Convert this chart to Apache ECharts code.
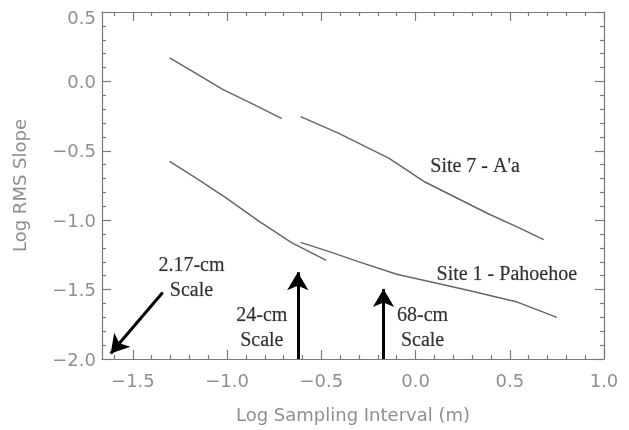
<!DOCTYPE html>
<html>
<head>
<meta charset="utf-8">
<script src="https://cdn.jsdelivr.net/npm/echarts@6/dist/echarts.min.js"></script>
<style>html,body{margin:0;padding:0;background:#fff}#c{width:629px;height:430px}</style>
</head>
<body>
<div id="c"></div>
<script>
// ---- data ----
var xMin = -1.664, xMax = 1.0, yMin = -2.0, yMax = 0.5;
var xTickLabels = [-1.5, -1.0, -0.5, 0.0, 0.5, 1.0];
var yTickLabels = [-2.0, -1.5, -1.0, -0.5, 0.0, 0.5];
var site7Seg1 = [[-1.305, 0.169], [-1.15, 0.045], [-1.026, -0.056], [-0.86, -0.165], [-0.71, -0.268]];
var site7Seg2 = [[-0.61, -0.254], [-0.41, -0.373], [-0.14, -0.555], [0.05, -0.725], [0.38, -0.95], [0.55, -1.055], [0.68, -1.14]];
var site1Seg1 = [[-1.305, -0.577], [-1.15, -0.71], [-1.0, -0.845], [-0.832, -1.007], [-0.658, -1.162], [-0.474, -1.289]];
var site1Seg2 = [[-0.61, -1.16], [-0.45, -1.23], [-0.30, -1.30], [-0.10, -1.39], [0.26, -1.50], [0.54, -1.59], [0.75, -1.70]];
var arrowTails = [[-1.342, -1.521], [-0.625, -2.0], [-0.17, -2.0]];
var arrowTips = [[-1.618, -1.96], [-0.625, -1.375], [-0.17, -1.495]];
var noteTexts = ["Site 7 - A'a", "Site 1 - Pahoehoe", "2.17-cm\nScale", "24-cm\nScale", "68-cm\nScale"];
var notePos = [[0.316, -0.615], [0.484, -1.395], [-1.189, -1.42], [-0.816, -1.775], [0.037, -1.775]];

// ---- build ----
var minorX = [];
for (var i = -16; i <= 10; i++) { if (i % 5 !== 0) minorX.push(i / 10); }
var axisGray = '#7a7a7a';
var labFont = { color: '#8f8f8f', fontFamily: 'DejaVu Sans', fontSize: 18, fontWeight: 'normal' };
function fmt(v) { return (Math.abs(v) < 1e-9 ? 0 : v).toFixed(1).replace('-', '\u2212'); }

function xAx(pos, custom, len, showLine, showLabel) {
  return {
    type: 'value', position: pos, min: xMin, max: xMax,
    axisLine: { show: showLine, onZero: false, lineStyle: { color: axisGray, width: 1.2 } },
    axisTick: { show: true, inside: true, length: len, customValues: custom, lineStyle: { color: axisGray, width: 1.2 } },
    axisLabel: showLabel ? Object.assign({ show: true, customValues: xTickLabels, formatter: fmt, margin: 14 }, labFont) : { show: false },
    splitLine: { show: false }
  };
}
var xAxes = [xAx('bottom', xTickLabels, 9, true, true), xAx('bottom', minorX, 4, false, false),
             xAx('top', xTickLabels, 9, true, false), xAx('top', minorX, 4, false, false)];
xAxes[0].name = 'Log Sampling Interval (m)';
xAxes[0].nameLocation = 'middle';
xAxes[0].nameGap = 48;
xAxes[0].nameTextStyle = Object.assign({}, labFont);

function yAx(pos, showLabel) {
  var a = {
    type: 'value', position: pos, min: yMin, max: yMax, interval: 0.5,
    axisLine: { show: true, onZero: false, lineStyle: { color: axisGray, width: 1.2 } },
    axisTick: { show: true, inside: true, length: 9, lineStyle: { color: axisGray, width: 1.2 } },
    minorTick: { show: true, splitNumber: 5, length: 4, lineStyle: { color: axisGray, width: 1.2 } },
    axisLabel: showLabel ? Object.assign({ show: true, margin: 6,
      formatter: function (v) { return v >= yMax - 1e-9 ? '{top|' + fmt(v) + '}' : '{n|' + fmt(v) + '}'; },
      rich: { top: Object.assign({ padding: [15, 0, 0, 0] }, labFont), n: Object.assign({ padding: [4, 0, 0, 0] }, labFont) }
    }, labFont) : { show: false },
    splitLine: { show: false }, minorSplitLine: { show: false }
  };
  return a;
}
var yAxes = [yAx('left', true), yAx('right', false)];
yAxes[0].name = 'Log RMS Slope';
yAxes[0].nameLocation = 'middle';
yAxes[0].nameGap = 72;
yAxes[0].nameTextStyle = Object.assign({}, labFont);

function lineSeries(d) {
  return { type: 'line', data: d, symbol: 'none', silent: true, animation: false,
    lineStyle: { color: '#666', width: 1.5 } };
}
var mlData = arrowTails.map(function (t, k) { return [{ coord: t }, { coord: arrowTips[k] }]; });
var series = [lineSeries(site7Seg1), lineSeries(site7Seg2), lineSeries(site1Seg1), lineSeries(site1Seg2),
  { type: 'line', data: [], symbol: 'none', animation: false,
    markLine: { silent: true, animation: false, symbol: ['none', 'arrow'], symbolSize: [16, 18],
      lineStyle: { color: '#000', width: 3, type: 'solid' }, label: { show: false }, emphasis: { disabled: true },
      data: mlData } },
  { type: 'scatter', symbolSize: 0, silent: true, animation: false,
    data: notePos.map(function (p, k) { return { value: p, name: noteTexts[k] }; }),
    label: { show: true, position: 'inside', formatter: function (p) { return p.name; },
      fontFamily: 'Liberation Serif', fontSize: 20, color: '#000', lineHeight: 25, align: 'center', verticalAlign: 'middle',
      textBorderColor: 'rgba(0,0,0,0.35)', textBorderWidth: 0.6 } }
];

var chart = echarts.init(document.getElementById('c'), null, { renderer: 'canvas' });
chart.setOption({
  animation: false,
  backgroundColor: '#fff',
  grid: { left: 102, right: 25, top: 12, bottom: 64, containLabel: false },
  xAxis: xAxes, yAxis: yAxes, series: series
});
</script>
</body>
</html>
